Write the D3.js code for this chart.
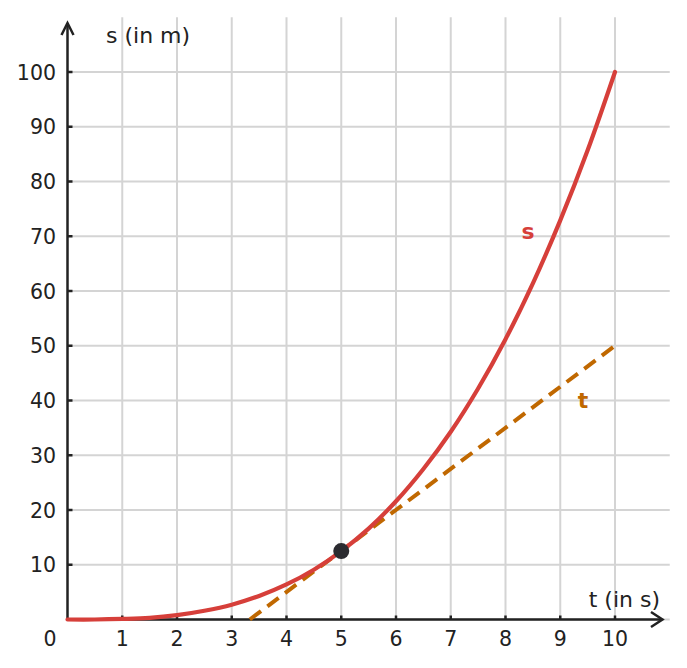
<!DOCTYPE html>
<html><head><meta charset="utf-8">
<script src="https://cdn.jsdelivr.net/npm/d3@7"></script>
<style>body{margin:0;background:#fff}svg{display:block}text{font-family:"DejaVu Sans",sans-serif}</style>
</head><body>
<svg id="c" width="687" height="668"></svg>
<script>
const tValues = [0,0.5,1,1.5,2,2.5,3,3.5,4,4.5,5,5.5,6,6.5,7,7.5,8,8.5,9,9.5,10];
const sValues = [0,0,0.1,0.3,0.8,1.6,2.7,4.3,6.4,9.1,12.5,16.6,21.6,27.5,34.3,42.2,51.2,61.4,72.9,85.7,100];
const tangentT = [3.33,10];
const tangentS = [0,50];
const pointT = [5], pointS = [12.5];
const xTicks = [1,2,3,4,5,6,7,8,9,10];
const yTicks = [10,20,30,40,50,60,70,80,90,100];

const svg = d3.select("#c");
const x = d3.scaleLinear().domain([0,10]).range([67.5,615]);
const y = d3.scaleLinear().domain([0,100]).range([619.5,72]);
const grid = "#d4d4d4", ink = "#222";

const g = svg.append("g");
// grid
g.selectAll(".vg").data(xTicks).join("line")
  .attr("x1",d=>x(d)).attr("x2",d=>x(d)).attr("y1",y(110)).attr("y2",y(0))
  .attr("stroke",grid).attr("stroke-width",2);
g.selectAll(".hg").data([0].concat(yTicks)).join("line")
  .attr("x1",x(0)).attr("x2",x(11)).attr("y1",d=>y(d)).attr("y2",d=>y(d))
  .attr("stroke",grid).attr("stroke-width",2);

// axes
g.append("line").attr("x1",x(0)).attr("x2",662).attr("y1",y(0)).attr("y2",y(0)).attr("stroke",ink).attr("stroke-width",2.5);
g.append("line").attr("x1",x(0)).attr("x2",x(0)).attr("y1",y(0)+1).attr("y2",23).attr("stroke",ink).attr("stroke-width",2.5);
g.append("path").attr("d",`M651,612L662.5,${y(0)}L651,627`).attr("fill","none").attr("stroke",ink).attr("stroke-width",2.5);
g.append("path").attr("d",`M${x(0)-6},35L${x(0)},23L${x(0)+6},35`).attr("fill","none").attr("stroke",ink).attr("stroke-width",2.5);
// ticks
g.selectAll(".xt").data(xTicks).join("line")
  .attr("x1",d=>x(d)).attr("x2",d=>x(d)).attr("y1",y(0)).attr("y2",y(0)-4).attr("stroke",ink).attr("stroke-width",2.5);
g.selectAll(".yt").data(yTicks).join("line")
  .attr("x1",x(0)).attr("x2",x(0)+5).attr("y1",d=>y(d)).attr("y2",d=>y(d)).attr("stroke",ink).attr("stroke-width",2.5);
// tick labels
g.selectAll(".xl").data(xTicks).join("text")
  .attr("x",d=>x(d)).attr("y",646).attr("text-anchor","middle").attr("font-size",20.5).attr("fill",ink).text(d=>d);
g.selectAll(".yl").data(yTicks).join("text")
  .attr("x",56).attr("y",d=>y(d)+7.5).attr("text-anchor","end").attr("font-size",20.5).attr("fill",ink).text(d=>d);
g.append("text").attr("x",50).attr("y",646).attr("text-anchor","middle").attr("font-size",20.5).attr("fill",ink).text("0");
g.append("text").attr("x",106).attr("y",43).attr("font-size",22).attr("fill",ink).text("s (in m)");
g.append("text").attr("x",660).attr("y",607).attr("text-anchor","end").attr("font-size",22).attr("fill",ink).text("t (in s)");

// tangent
const tan = tangentT.map((t,i)=>[t,tangentS[i]]);
g.append("path").datum(tan).attr("d",d3.line().x(d=>x(d[0])).y(d=>y(d[1])))
  .attr("fill","none").attr("stroke","#c06800").attr("stroke-width",4).attr("stroke-dasharray","14,8");
// curve
const curve = tValues.map((t,i)=>[t,sValues[i]]);
g.append("path").datum(curve).attr("d",d3.line().curve(d3.curveCatmullRom).x(d=>x(d[0])).y(d=>y(d[1])))
  .attr("fill","none").attr("stroke","#d63f3a").attr("stroke-width",4.2).attr("stroke-linecap","round");
// point
g.selectAll(".pt").data(pointT).join("circle")
  .attr("cx",d=>x(d)).attr("cy",(d,i)=>y(pointS[i])).attr("r",8).attr("fill","#2b2b30");
// labels
g.append("text").attr("x",528).attr("y",239).attr("text-anchor","middle").attr("font-size",22).attr("font-weight","bold").attr("fill","#d63f3a").text("s");
g.append("text").attr("x",583).attr("y",408).attr("text-anchor","middle").attr("font-size",22).attr("font-weight","bold").attr("fill","#c06800").text("t");
</script>
</body></html>
